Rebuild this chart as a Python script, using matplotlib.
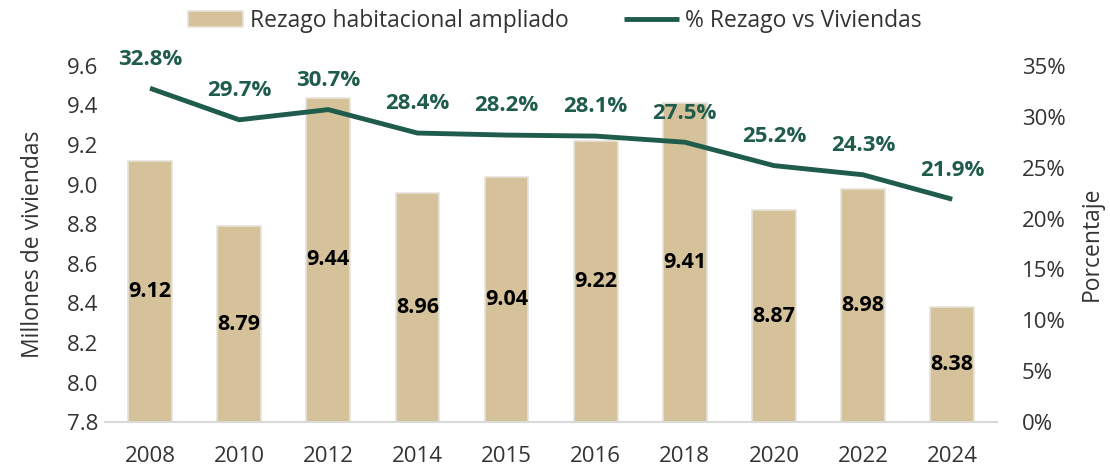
import matplotlib.pyplot as plt
from matplotlib.ticker import FuncFormatter

plt.rcParams['font.family'] = ['Open Sans', 'DejaVu Sans']

years = ['2008', '2010', '2012', '2014', '2015', '2016', '2018', '2020', '2022', '2024']
rezago = [9.12, 8.79, 9.44, 8.96, 9.04, 9.22, 9.41, 8.87, 8.98, 8.38]
pct = [32.8, 29.7, 30.7, 28.4, 28.2, 28.1, 27.5, 25.2, 24.3, 21.9]

bar_color = '#d5c29a'
line_color = '#1f5c4b'
text_color = '#333333'

fig, ax = plt.subplots(figsize=(11.1, 4.67), dpi=100)
fig.subplots_adjust(left=0.095, right=0.898, bottom=0.096, top=0.859)
x = range(len(years))

bars = ax.bar(x, [v - 7.8 for v in rezago], bottom=7.8, width=0.49, color=bar_color,
              edgecolor='#e6e3dc', linewidth=1.2, label='Rezago habitacional ampliado', zorder=2)
for i, v in enumerate(rezago):
    ax.text(i, (7.8 + v) / 2, f'{v:.2f}', ha='center', va='center', fontsize=15.5,
            fontweight='bold', color='black', zorder=4)

ax.set_ylim(7.8, 9.6)
ax.set_yticks([7.8 + 0.2 * k for k in range(10)])
ax.yaxis.set_major_formatter(FuncFormatter(lambda v, p: f'{v:.1f}'))
ax.set_xlim(-0.5, len(years) - 0.5)
ax.set_xticks(list(x))
ax.set_xticklabels(years)
ax.set_ylabel('Millones de viviendas', fontsize=16.5, color=text_color, labelpad=16)
ax.tick_params(axis='both', length=0, labelsize=16, colors=text_color)
ax.tick_params(axis='x', pad=17)
ax.tick_params(axis='y', pad=5)
for s in ['top', 'right', 'left']:
    ax.spines[s].set_visible(False)
ax.spines['bottom'].set_color('#d9d9d9')
ax.spines['bottom'].set_linewidth(1.5)

ax2 = ax.twinx()
line, = ax2.plot(list(x), pct, color=line_color, linewidth=3.5, label='% Rezago vs Viviendas',
                 zorder=3, solid_capstyle='butt')
for i, v in enumerate(pct):
    ax2.annotate(f'{v:.1f}%', (i, v), xytext=(0, 21), textcoords='offset points',
                 ha='center', va='center', fontsize=16, fontweight='bold', color=line_color)
ax2.set_ylim(0, 35)
ax2.set_yticks(range(0, 36, 5))
ax2.yaxis.set_major_formatter(FuncFormatter(lambda v, p: f'{v:.0f}%'))
ax2.set_ylabel('Porcentaje', fontsize=16.5, color=text_color, labelpad=10)
ax2.tick_params(axis='y', length=0, labelsize=16, colors=text_color, pad=18)
for s in ['top', 'right', 'left', 'bottom']:
    ax2.spines[s].set_visible(False)

fig.legend([bars, line], ['Rezago habitacional ampliado', '% Rezago vs Viviendas'],
           loc='upper center', bbox_to_anchor=(0.5, 1.025), ncol=2, frameon=False,
           fontsize=16.5, handlelength=2.4, handleheight=0.7, handletextpad=0.3,
           columnspacing=2.4, labelcolor=text_color)

fig.savefig('out.png', dpi=100)
